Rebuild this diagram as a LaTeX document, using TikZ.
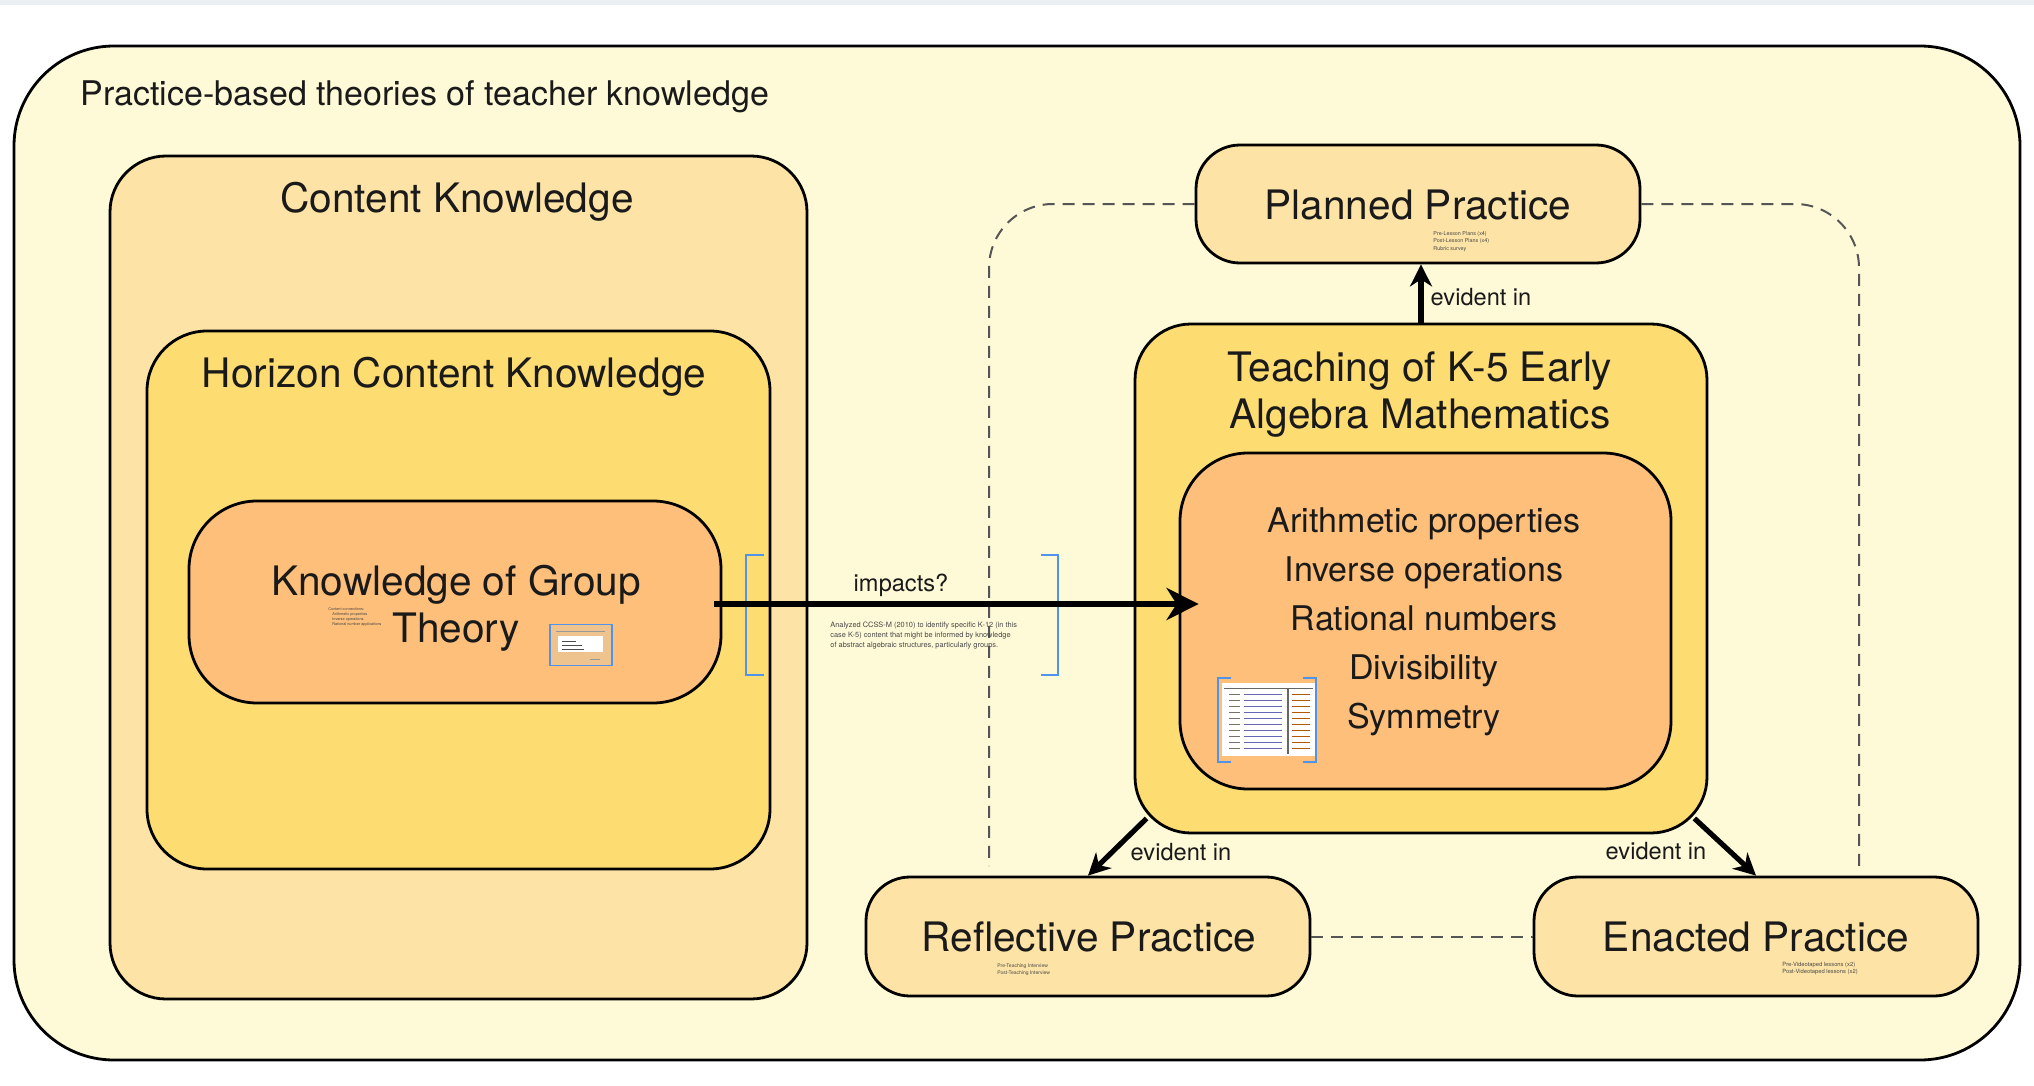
\documentclass[tikz,border=0pt]{standalone}
\usepackage{fontspec}
\setmainfont{TeX Gyre Heros}
\usetikzlibrary{arrows.meta,calc}
\definecolor{outerfill}{HTML}{FEFAD8}
\definecolor{peach}{HTML}{FDE4A6}
\definecolor{gold}{HTML}{FDDC72}
\definecolor{orng}{HTML}{FDBF7A}
\definecolor{bluebr}{HTML}{4F94EA}
\definecolor{dashgray}{HTML}{555555}
\definecolor{topband}{HTML}{E9EFF3}
\definecolor{txt}{HTML}{1A1A1A}
\definecolor{thumbtan}{HTML}{EFC38E}
\begin{document}
\begin{tikzpicture}[x=0.5pt,y=-0.5pt,
  box/.style={draw=black, line width=1.4pt, inner sep=0pt},
  bigtxt/.style={text=txt, font=\fontsize{20.3}{23.5}\selectfont, inner sep=0pt},
  midtxt/.style={text=txt, font=\fontsize{17}{24.5}\selectfont, inner sep=0pt},
  lbl/.style={text=txt, font=\fontsize{11.8}{14}\selectfont, inner sep=0pt},
  tiny/.style={text=txt!80, anchor=north west, align=left, inner sep=0pt},
  arr/.style={line width=2.7pt, -{Stealth[length=16pt,width=16pt,inset=5pt]}},
  arrs/.style={line width=2.6pt, -{Stealth[length=11pt,width=11pt,inset=3.5pt]}},
  dsh/.style={draw=dashgray, line width=1pt, dash pattern=on 6pt off 4pt, rounded corners=32pt},
  brk/.style={draw=bluebr, line width=0.8pt}
]
% canvas
\path[fill=white] (0,0) rectangle (2034,1086);
\useasboundingbox (0,0) rectangle (2034,1086);
\fill[topband] (0,0) rectangle (2034,5);

% outer box
\node[box, fill=outerfill, rounded corners=50pt, minimum width=1003pt, minimum height=507pt] (outer) at (1017,553) {};
\node[text=txt, font=\fontsize{17}{20}\selectfont, anchor=west, inner sep=0pt] (outertitle) at (80,97) {Practice-based theories of teacher knowledge};

% left nested boxes
\node[box, fill=peach, rounded corners=28pt, minimum width=348.5pt, minimum height=421.5pt] (content) at (458.5,577.5) {};
\node[bigtxt] (contenttitle) at (457,202) {Content Knowledge};
\node[box, fill=gold, rounded corners=30pt, minimum width=311.5pt, minimum height=269pt] (horizon) at (458.5,600) {};
\node[bigtxt] (horizontitle) at (454,377) {Horizon Content Knowledge};
\node[box, fill=orng, rounded corners=34pt, minimum width=266pt, minimum height=101pt] (group) at (455,602) {};
\node[bigtxt, align=center] (grouptxt) at (456,608) {Knowledge of Group\\Theory};
\node[tiny, font=\fontsize{1.9}{2.5}\selectfont] (groupnote) at (328,607) {Content connections:\\\hspace{2pt}Arithmetic properties\\\hspace{2pt}Inverse operations\\\hspace{2pt}Rational number applications};
% thumbnail in group box
\node[draw=bluebr, line width=0.8pt, fill=thumbtan, minimum width=31pt, minimum height=20.5pt, inner sep=0pt] (groupthumb) at (581,645) {};
\fill[white] (558,636) rectangle (603,652);
\foreach \yy/\ww in {641/14,645/20,649/22}{\draw[black!70, line width=0.5pt] (562,\yy) -- ++(\ww,0);}
\draw[black!40, line width=0.3pt] (556,631) -- (605,631);
\draw[black!40, line width=0.3pt] (590,659) -- (600,659);

% right: planned
\node[box, fill=peach, rounded corners=22pt, minimum width=222pt, minimum height=59pt] (planned) at (1418,204) {};
\node[bigtxt] (plannedtxt) at (1418,205) {Planned Practice};
\node[tiny, font=\fontsize{2.7}{3.7}\selectfont] (plannednote) at (1433,231) {Pre-Lesson Plans (x4)\\Post-Lesson Plans (x4)\\Rubric survey};

% dashed loop
\draw[dsh] (planned.west) -- (989,204) -- (989,866);
\draw[dsh] (planned.east) -- (1859,204) -- (1859,866);

% teaching
\node[box, fill=gold, rounded corners=28pt, minimum width=286pt, minimum height=254.5pt] (teaching) at (1421,578.5) {};
\node[bigtxt, align=center] (teachingtitle) at (1420,395) {Teaching of K-5 Early\\Algebra Mathematics};
\node[box, fill=orng, rounded corners=34pt, minimum width=245.5pt, minimum height=168pt] (inner) at (1425.5,621) {};
\node[midtxt, align=center] (list) at (1424,622) {Arithmetic properties\\Inverse operations\\Rational numbers\\Divisibility\\Symmetry};
% thumbnail in inner box
\fill[white] (1222,683) rectangle (1315,756);
\draw[black!60, line width=0.4pt] (1224,688) -- (1313,688);
\draw[black!60, line width=0.6pt] (1288,688) -- (1288,754);
\foreach \yy in {694,700,706,712,718,724,730,736,742,748}{
  \draw[black!55, line width=0.5pt] (1229,\yy) -- (1240,\yy);
  \draw[blue!50!black!60, line width=0.5pt] (1244,\yy) -- (1282,\yy);
  \draw[orange!70!black, line width=0.4pt] (1292,\yy) -- (1310,\yy);
}
\draw[brk] (1231,678) -- (1218,678) -- (1218,762) -- (1231,762);
\draw[brk] (1303,678) -- (1316,678) -- (1316,762) -- (1303,762);

% bottom boxes
\node[box, fill=peach, rounded corners=22pt, minimum width=222pt, minimum height=59.5pt] (reflective) at (1088,936.5) {};
\node[bigtxt] (reflectivetxt) at (1089,937) {Reflective Practice};
\node[tiny, font=\fontsize{2.5}{3.5}\selectfont] (reflectivenote) at (997,963) {Pre-Teaching Interview\\Post-Teaching Interview};
\node[box, fill=peach, rounded corners=22pt, minimum width=222pt, minimum height=59.5pt] (enacted) at (1756,936.5) {};
\node[bigtxt] (enactedtxt) at (1756,937) {Enacted Practice};
\node[tiny, font=\fontsize{2.9}{3.6}\selectfont] (enactednote) at (1782,962) {Pre-Videotaped lessons (x2)\\Post-Videotaped lessons (x2)};
\draw[dsh] (reflective.east) -- (enacted.west);

% impacts arrow with brackets
\draw[brk] (764,555) -- (746,555) -- (746,675) -- (764,675);
\draw[brk] (1041,555) -- (1058,555) -- (1058,675) -- (1041,675);
\draw[arr] ([xshift=-4pt,yshift=-1pt]group.east) -- ([xshift=10pt,yshift=-1pt]group.east -| inner.west);
\node[lbl] (impacts) at (901,585) {impacts?};
\node[tiny, font=\fontsize{3.7}{5}\selectfont] (impactnote) at (830,622) {Analyzed CCSS-M (2010) to identify specific K-12 (in this\\case K-5) content that might be informed by knowledge\\of abstract algebraic structures, particularly groups.};

% evident in arrows
\draw[arrs] (teaching.north) -- (teaching.north |- planned.south);
\node[lbl] (ev1) at (1481,297) {evident in};
\coordinate (tl) at ($(teaching.south west)+(13,-16)$);
\coordinate (tr) at ($(teaching.south east)+(-14,-16)$);
\draw[arrs] (tl) -- (reflective.north);
\node[lbl] (ev2) at (1181,852) {evident in};
\draw[arrs] (tr) -- (enacted.north);
\node[lbl] (ev3) at (1656,851) {evident in};
\end{tikzpicture}
\end{document}
